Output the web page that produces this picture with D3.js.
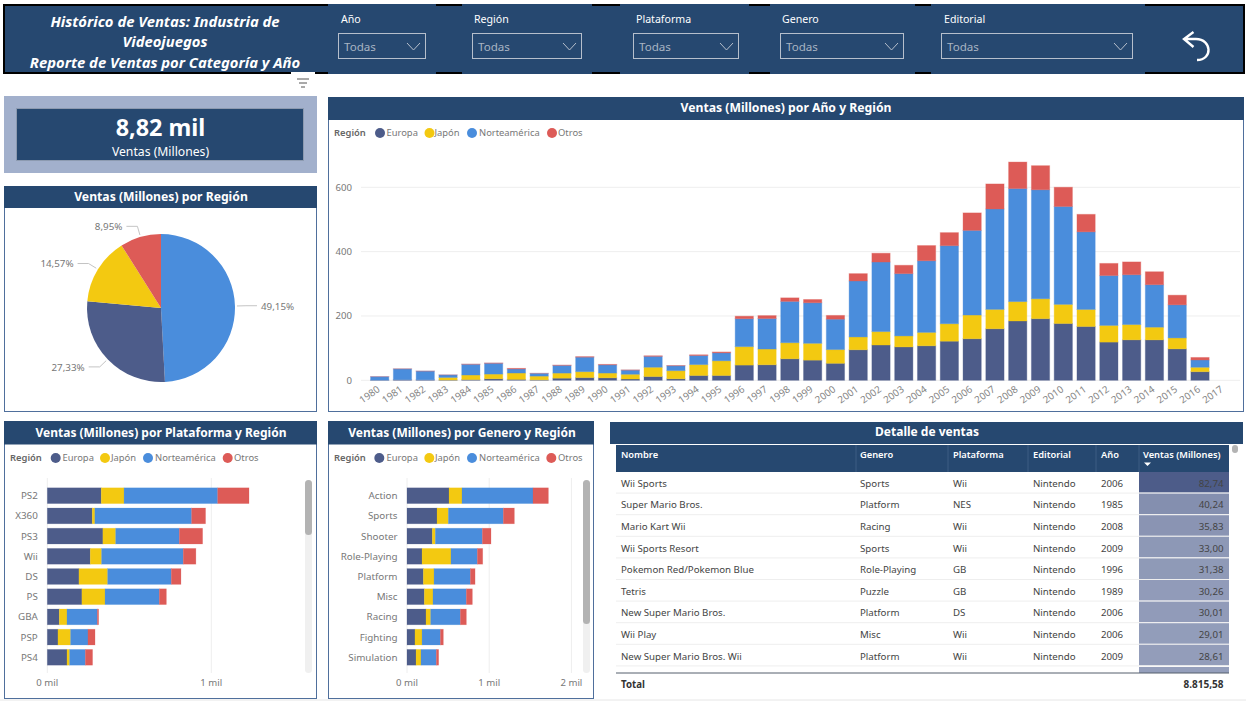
<!DOCTYPE html>
<html><head><meta charset="utf-8">
<script src="https://cdn.jsdelivr.net/npm/d3@7"></script>
<style>
html,body{margin:0;padding:0;background:#fff;overflow:hidden}
svg{display:block}
text{font-family:"Noto Sans",sans-serif}
</style></head><body><svg id="c" width="1246" height="701"></svg>
<script>
// ---------- data ----------
const regions = ["Europa","Japón","Norteamérica","Otros"];
const regionColors = ["#4d5c8a","#f3c911","#4a8ddc","#dd5b57"];
const years = [1980,1981,1982,1983,1984,1985,1986,1987,1988,1989,1990,1991,1992,1993,1994,1995,1996,1997,1998,1999,2000,2001,2002,2003,2004,2005,2006,2007,2008,2009,2010,2011,2012,2013,2014,2015,2016,2017];
const yearEuropa = [0.7,2,1.7,0.8,2.1,4.7,2.8,1.4,6.6,8.4,7.6,4,11.7,4.7,14.9,14.9,47.3,48.3,66.9,62.7,52.8,94.9,109.7,103.8,107.3,121.6,129.2,160.2,184.4,191.6,176.6,167.3,118.8,125.8,125.7,97.7,26.8,0];
const yearJapon = [0,0,0,8.1,14.3,14.6,19.8,11.6,15.8,18.4,14.9,14.8,28.9,25.3,34,45.8,57.4,48.9,50,52.3,42.8,39.9,41.8,34.2,41.7,54.3,73.7,60.3,60.3,61.9,59.5,53,51.8,47.6,39.5,34.1,13.7,0];
const yearNorte = [10.6,33.4,26.9,7.8,33.3,33.7,12.5,8.5,23.9,45.2,25.5,12.8,33.9,15.1,28.2,24.8,86.8,94.8,128.4,126.1,94.5,174,216.2,193.6,222.6,242.6,263.1,312.1,351.4,338.9,304.2,241.2,155,154.8,132,102.8,22.7,0];
const yearOtros = [0.1,0.3,0.3,0.1,0.7,0.9,1.9,0.2,1,1.5,1.4,0.7,1.7,0.9,2.2,2.6,7.7,9.1,11,10.1,11.6,22.8,27.3,26,47.3,40.6,54.4,77.8,82.4,74.8,59.9,54.4,37.8,39.8,40.3,30,7.8,0];
const yearTicks = [0,200,400,600];

const pieValues = [49.15,27.33,14.57,8.95];
const pieLabels = ["49,15%","27,33%","14,57%","8,95%"];
const pieNames = ["Norteamérica","Europa","Japón","Otros"];
const pieColors = ["#4a8ddc","#4d5c8a","#f3c911","#dd5b57"];

const platforms = ["PS2","X360","PS3","Wii","DS","PS","GBA","PSP","PS4"];
const platEuropa = [329,274,339,262,193,211,73,65,120];
const platJapon = [139,16,78,69,175,141,47,77,16];
const platNorte = [571,590,388,498,388,331,185,106,96];
const platOtros = [191,85,142,77,59,43,8,43,44];

const genres = ["Action","Sports","Shooter","Role-Playing","Platform","Misc","Racing","Fighting","Simulation"];
const genEuropa = [511,365,308,183,199,211,231,97,110];
const genJapon = [158,138,37,352,130,105,57,86,60];
const genNorte = [864,669,572,321,442,406,361,223,187];
const genOtros = [187,134,105,65,57,73,73,36,28];

const tableColumns = ["Nombre","Genero","Plataforma","Editorial","Año","Ventas (Millones)"];
const gameNames = ["Wii Sports","Super Mario Bros.","Mario Kart Wii","Wii Sports Resort","Pokemon Red/Pokemon Blue","Tetris","New Super Mario Bros.","Wii Play","New Super Mario Bros. Wii"];
const gameGenres = ["Sports","Platform","Racing","Sports","Role-Playing","Puzzle","Platform","Misc","Platform"];
const gamePlatforms = ["Wii","NES","Wii","Wii","GB","GB","DS","Wii","Wii"];
const gameEditorial = ["Nintendo","Nintendo","Nintendo","Nintendo","Nintendo","Nintendo","Nintendo","Nintendo","Nintendo"];
const gameYears = [2006,1985,2008,2009,1996,1989,2006,2006,2009];
const gameSales = [82.74,40.24,35.83,33.00,31.38,30.26,30.01,29.01,28.61];

const slicerNames = ["Año","Región","Plataforma","Genero","Editorial"];
// ---------- layout ----------
const NAVY="#264870", GREY="#777777", EDGE="#4f6f9c";
const svg=d3.select("#c");
const fmt2=v=>d3.format(".2f")(v).replace(".",",");
function rect(x0,y0,x1,y1,fill,stroke,sw){return svg.append("rect").attr("x",x0).attr("y",y0).attr("width",x1-x0).attr("height",y1-y0).attr("fill",fill||"none").attr("stroke",stroke||"none").attr("stroke-width",sw||0);}
function text(x,y,s,size,fill,anchor,weight,style){return svg.append("text").attr("x",x).attr("y",y).attr("dy","0.35em").text(s).attr("font-size",size).attr("fill",fill).attr("text-anchor",anchor||"start").attr("font-weight",weight||400).attr("font-style",style||"normal");}
function line(x0,y0,x1,y1,c,w){return svg.append("line").attr("x1",x0).attr("y1",y0).attr("x2",x1).attr("y2",y1).attr("stroke",c).attr("stroke-width",w||1);}
function card(x0,y0,x1,y1,hb,title,tx,ty,ts){
  rect(x0+.5,y0+.5,x1-.5,y1-.5,"#fff",EDGE,1);
  rect(x0,y0,x1,hb,NAVY);
  text(tx,ty,title,ts||12.2,"#fff","middle",700);
}
function legend(y,lx,cx,tx){
  text(lx,y,"Región",9.4,"#666",null,600);
  regions.forEach((r,i)=>{
    svg.append("circle").attr("cx",cx[i]).attr("cy",y).attr("r",5).attr("fill",regionColors[i]);
    text(tx[i],y,r,9.4,"#777");
  });
}
// header
rect(4,5,1244,73,NAVY,"#000",2);
const panels=[[328,436],[462,592],[620,749],[770,915],[931,1145]];
panels.forEach(p=>rect(p[0],4,p[1],74,NAVY));
rect(291,72,315,96,"#fff");
[[297,309,79],[299,307,83],[301,305,87]].forEach(a=>line(a[0],a[2],a[1],a[2],"#555",1));
text(165,22,"Histórico de Ventas: Industria de",14.8,"#fff","middle",700,"italic");
text(165,42,"Videojuegos",14.8,"#fff","middle",700,"italic");
text(165,63,"Reporte de Ventas por Categoría y Año",14.8,"#fff","middle",700,"italic");
const slicerBox=[[338,426,341],[472,582,474],[633,739,636],[780,904,782],[941,1133,944]];
slicerNames.forEach((n,i)=>{
  const b=slicerBox[i];
  text(b[2],19,n,10.6,"#fff");
  rect(b[0]+.5,33.5,b[1]-.5,58.5,"none","#b6bfcc",1);
  text(b[0]+6,47,"Todas",11.6,"#a9b4c3");
  svg.append("path").attr("d",`M${b[1]-19},43L${b[1]-12.5},50L${b[1]-6},43`).attr("fill","none").attr("stroke","#b6bfcc").attr("stroke-width",1);
});
svg.append("path").attr("d","M1193.5,32L1184,39L1193.5,47M1185,39H1196C1212,39 1213,60 1197,60").attr("fill","none").attr("stroke","#fff").attr("stroke-width",2.4);

// KPI
rect(4,96,317,173,"#a2b0cc");
rect(16.5,108.5,303.5,160.5,NAVY,"#8c9ab0",1);
text(160.5,128,"8,82 mil",23.4,"#fff","middle",700);
text(160.5,152,"Ventas (Millones)",12.2,"#fff","middle");

// ---------- year chart ----------
card(328,97,1244,412,120,"Ventas (Millones) por Año y Región",786,107.5);
legend(133,334,[380,429.5,472,552],[386.5,434.5,479,558]);
const yearSeries=[yearEuropa,yearJapon,yearNorte,yearOtros];
const xYear=d3.scaleBand().domain(years).range([368.3,1234.2]).paddingInner(0.2).paddingOuter(0.1);
const yYear=d3.scaleLinear().domain([0,600]).range([380.3,187.3]);
yearTicks.forEach(t=>{
  line(361,yYear(t),1240,yYear(t),"#eeeeee",1);
  text(352,yYear(t),t,9.6,GREY,"end");
});
const gYear=svg.append("g");
const stackYear=d3.stack().keys(d3.range(4)).value((d,k)=>yearSeries[k][d])(d3.range(years.length));
stackYear.forEach((s,k)=>{
  gYear.selectAll(null).data(s.map((d,i)=>({d,i})).filter(e=>e.d[1]>e.d[0])).enter().append("rect")
   .attr("x",e=>xYear(years[e.i])).attr("width",xYear.bandwidth())
   .attr("y",e=>yYear(e.d[1])).attr("height",e=>yYear(e.d[0])-yYear(e.d[1]))
   .attr("fill",regionColors[k]).attr("stroke",regionColors[k]).attr("stroke-opacity",.35).attr("stroke-width",1);
});
years.forEach(y=>{
  const cx=xYear(y)+xYear.bandwidth()/2;
  svg.append("text").attr("transform",`translate(${cx-1},388) rotate(-35)`).attr("text-anchor","end").attr("dy","0.35em").attr("font-size",9.8).attr("fill","#858585").text(y);
});

// ---------- pie ----------
card(4,186,317,412,208,"Ventas (Millones) por Región",161,197);
const cx=161,cy=308,R=74;
const pie=d3.pie().sort(null).value(d=>d)(pieValues);
const arc=d3.arc().innerRadius(0).outerRadius(R);
const pg=svg.append("g").attr("transform",`translate(${cx},${cy})`);
pg.selectAll("path").data(pie).enter().append("path").attr("d",arc).attr("fill",(d,i)=>pieColors[i]);
pie.forEach((d,i)=>{
  const a=(d.startAngle+d.endAngle)/2,s=Math.sin(a),c=Math.cos(a),dir=s>0?1:-1;
  const p2=[cx+85*s,cy-85*c];
  const p1=[cx+76*s,cy-76*c];
  const p3=[p2[0]+dir*11,p2[1]];
  svg.append("polyline").attr("points",[p1,p2,p3].join(" ")).attr("fill","none").attr("stroke","#c4c4c4").attr("stroke-width",1);
  text(p3[0]+dir*4,p3[1]+.5,pieLabels[i],9.8,GREY,dir>0?"start":"end");
});

// ---------- horizontal bars ----------
function hbars(o){
  card(o.x0,421,o.x1,699,444.5,o.title,o.tx,433,12);
  legend(458,o.lx,o.cxs,o.txs);
  const x=d3.scaleLinear().domain([0,1000]).range([o.zero,o.one]);
  const y=d3.scaleBand().domain(o.cats).range([485.6,667.4]).paddingInner(0.22).paddingOuter(0.11);
  o.ticks.forEach(t=>{
    line(x(t),478,x(t),673,"#eeeeee",1);
    text(x(t),683,(t/1000)+" mil",9.6,GREY,"middle");
  });
  const st=d3.stack().keys(d3.range(4)).value((d,k)=>o.series[k][d])(d3.range(o.cats.length));
  st.forEach((s,k)=>{
    svg.append("g").selectAll("rect").data(s).enter().append("rect")
     .attr("y",(d,i)=>y(o.cats[i])).attr("height",y.bandwidth())
     .attr("x",d=>x(d[0])).attr("width",d=>x(d[1])-x(d[0]))
     .attr("fill",regionColors[k]).attr("stroke",regionColors[k]).attr("stroke-opacity",.3).attr("stroke-width",.7);
  });
  o.cats.forEach(c=>text(o.zero-9.5,y(c)+y.bandwidth()/2,c,9.8,GREY,"end"));
  rect(o.sb,480,o.sb+7,673,"#f0f0f0").attr("rx",3.5);
  rect(o.sb,480,o.sb+7,o.thumb,"#b3b3b3").attr("rx",3.5);
}
hbars({x0:4,x1:317,title:"Ventas (Millones) por Plataforma y Región",tx:161,lx:10,cxs:[55.7,105,148,227.7],txs:[62.5,111,155,234],
  cats:platforms,series:[platEuropa,platJapon,platNorte,platOtros],zero:47.3,one:211.3,ticks:[0,1000],sb:305,thumb:535});
hbars({x0:328,x1:594,title:"Ventas (Millones) por Genero y Región",tx:462,lx:334,cxs:[379.3,429.3,472,551.3],txs:[386.5,435,479,558],
  cats:genres,series:[genEuropa,genJapon,genNorte,genOtros],zero:407,one:489.2,ticks:[0,1000,2000],sb:583,thumb:624});

// ---------- table ----------
rect(610,422,1243,444,NAVY);
text(927,431.5,"Detalle de ventas",12,"#fff","middle",700);
const colEdges=[616,856,948,1028,1096,1139,1229];
rect(616,445,1229,472,NAVY);
colEdges.slice(1,6).forEach(x=>line(x,445,x,472,"#3d5c83",1));
const colText=[621,860,953,1033,1101,1143];
tableColumns.forEach((c,i)=>text(colText[i],455,c,9.3,"#fff",null,600));
svg.append("path").attr("d","M1144,462.5h7l-3.5,3.5z").attr("fill","#fff");
const yRow=d3.scaleBand().domain(d3.range(gameNames.length)).range([472,666.4]);
const shade=d3.scaleLinear().domain([28.61,82.74]).range(["#939dba","#4d5c89"]);
gameNames.forEach((n,i)=>{
  const y=yRow(i),b=yRow.bandwidth(),m=y+b/2+.6;
  rect(1139,y,1229,y+b-1,shade(gameSales[i]));
  line(616,y+b-.5,1229,y+b-.5,"#eeeeee",1);
  const cells=[n,gameGenres[i],gamePlatforms[i],gameEditorial[i],gameYears[i]];
  cells.forEach((t,j)=>text(colText[j],m,t,9.7,"#444"));
  text(1223.5,m,fmt2(gameSales[i]),9.7,"#444","end");
});
rect(1139,667,1229,673,"#959fbc");
line(616,673,1229,673,"#555e6c",1);
text(621,684.5,"Total",9.7,"#333",null,700);
text(1223.5,684.5,d3.format(",.2f")(8815.58).replace(/[,.]/g,m=>m===","?".":","),10,"#333","end",700);
rect(1232,445,1238,453,"#b3b3b3").attr("rx",3);
line(0,700,1246,700,"#e6e6e6",1);
</script></body></html>
